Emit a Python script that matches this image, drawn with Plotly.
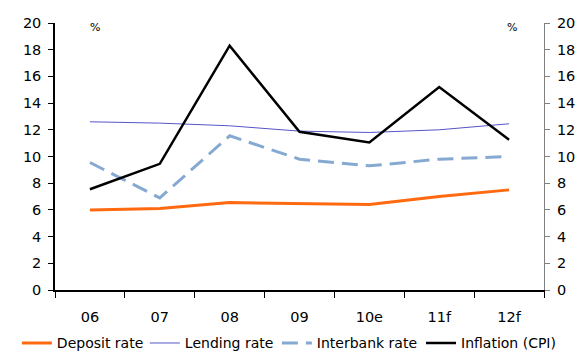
import plotly.graph_objects as go

# Annual rates, per cent
years = ["06", "07", "08", "09", "10e", "11f", "12f"]
deposit_rate = [6.0, 6.1, 6.55, 6.5, 6.4, 7.0, 7.5]
lending_rate = [12.6, 12.5, 12.3, 11.9, 11.8, 12.0, 12.45]
interbank_rate = [9.55, 6.9, 11.55, 9.8, 9.3, 9.8, 10.0]
inflation_cpi = [7.55, 9.45, 18.3, 11.85, 11.05, 15.2, 11.25]

y_ticks = list(range(0, 21, 2))

font_family = "DejaVu Sans"

fig = go.Figure()
fig.add_trace(go.Scatter(x=years, y=deposit_rate, name="Deposit rate", mode="lines",
                         line=dict(color="#FF6A10", width=3), legendwidth=83))
fig.add_trace(go.Scatter(x=years, y=lending_rate, name="Lending rate", mode="lines",
                         line=dict(color="#5555C8", width=1), legendwidth=87))
fig.add_trace(go.Scatter(x=years, y=interbank_rate, name="Interbank rate", mode="lines",
                         line=dict(color="#86A9D2", width=3, dash="16px,8px"),
                         legendwidth=105))
# the last key sits in its own legend box so the row fits beside the others
fig.add_trace(go.Scatter(x=years, y=inflation_cpi, name="Inflation (CPI)", mode="lines",
                         line=dict(color="#000000", width=2.5), legend="legend2"))
# invisible trace to carry the right-hand axis
fig.add_trace(go.Scatter(x=years, y=inflation_cpi, yaxis="y2", mode="lines",
                         line=dict(width=0), opacity=0, showlegend=False, hoverinfo="skip"))

legend_common = dict(orientation="h", xanchor="left", y=-0.2, yanchor="middle",
                     font=dict(size=14), itemwidth=30, tracegroupgap=0,
                     bgcolor="rgba(0,0,0,0)")

fig.update_layout(
    width=580, height=353,
    margin=dict(l=55, r=36, t=23, b=63, autoexpand=False),
    paper_bgcolor="white", plot_bgcolor="white",
    font=dict(family=font_family, size=14.5, color="#000000"),
    showlegend=True,
    legend=dict(x=-0.078, **legend_common),
    legend2=dict(x=0.7485, **legend_common),
    xaxis=dict(type="category", showgrid=False, showline=True, linecolor="#000000",
               linewidth=1.5, ticks="outside", tickson="boundaries", ticklen=6,
               tickcolor="#000000", tickfont=dict(size=14.5), zeroline=False,
               range=[-0.5, 6.5], ticklabelstandoff=13),
    yaxis=dict(range=[0, 20], tickvals=y_ticks, showgrid=False, showline=True,
               linecolor="#000000", linewidth=1.5, ticks="outside", ticklen=5,
               tickcolor="#000000", tickfont=dict(size=14.5), zeroline=False,
               ticklabelstandoff=4),
    yaxis2=dict(range=[0, 20], tickvals=y_ticks, overlaying="y", side="right",
                showgrid=False, showline=True, linecolor="#808080", linewidth=1,
                ticks="outside", ticklen=5, tickcolor="#808080",
                tickfont=dict(size=14.5), zeroline=False, ticklabelstandoff=4),
    annotations=[
        dict(text="%", x=0.082, xref="paper", y=0.985, yref="paper", showarrow=False,
             xanchor="center", yanchor="middle", font=dict(size=11)),
        dict(text="%", x=0.935, xref="paper", y=0.985, yref="paper", showarrow=False,
             xanchor="center", yanchor="middle", font=dict(size=11)),
    ],
)

fig.write_html("out.html")
